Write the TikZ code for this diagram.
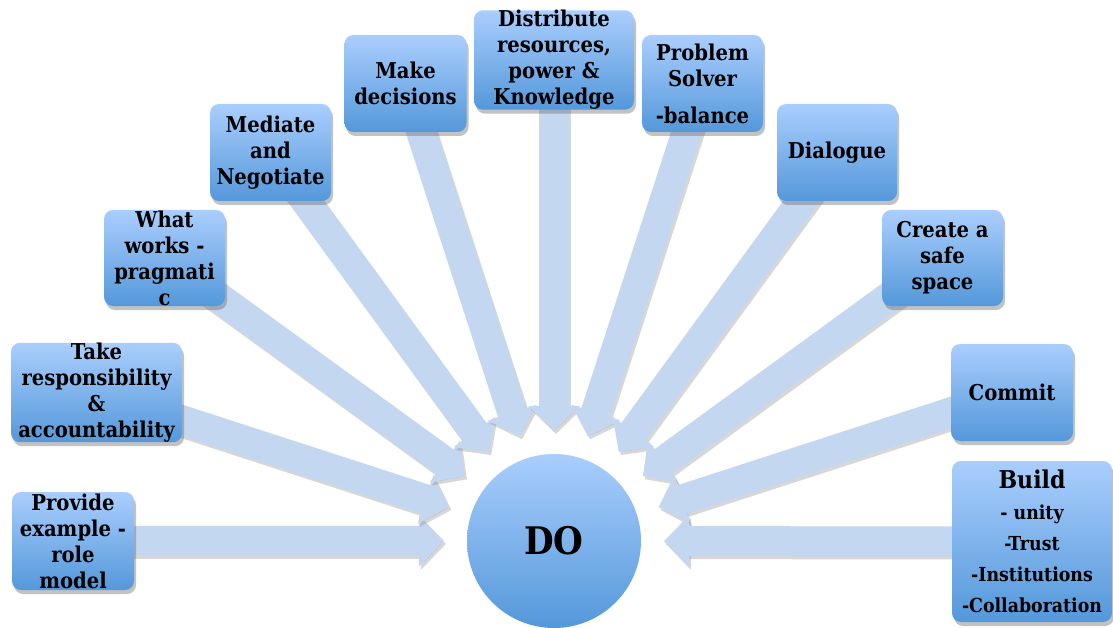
\documentclass[tikz,border=0pt]{standalone}
\usepackage{fontspec}
\setmainfont{DejaVu Serif Condensed}
\usepackage{tikz}
\usetikzlibrary{shapes,arrows.meta,calc,shadows,backgrounds}

\begin{document}
\begin{tikzpicture}[x=1pt,y=-1pt,
  box/.style={draw=none,rounded corners=9pt,top color=boxTop,bottom color=boxBot,
    drop shadow={opacity=0.4,shadow xshift=2pt,shadow yshift=-4pt,fill=black!60},
    inner sep=0pt,align=center,font=\fontsize{21.8}{26}\selectfont\bfseries},
  hub/.style={circle,draw=none,top color=boxTop,bottom color=boxBot,minimum size=174pt,
    inner sep=0pt,font=\fontsize{38}{46}\selectfont\bfseries},
  arrbody/.style={line width=30pt,draw=arrBlue,-{Triangle[width=50pt,length=25pt]}},
  arrshadow/.style={line width=30pt,draw=black!45,opacity=0.35,-{Triangle[width=50pt,length=25pt]},
    transform canvas={xshift=2pt,yshift=-3pt}}]
\definecolor{boxTop}{RGB}{170,206,253}
\definecolor{boxBot}{RGB}{84,152,218}
\definecolor{arrBlue}{RGB}{196,215,241}
\useasboundingbox (0,0) rectangle (1113,628);
\node[hub] (do) at (554,541) {DO};
\node[box,minimum width=122pt,minimum height=98pt] (prov) at (73,541) {Provide\\example -\\role\\model};
\node[box,minimum width=171pt,minimum height=97pt] (resp) at (96.5,392.5) {Take\\responsibility\\\&\\accountability};
\node[box,minimum width=121pt,minimum height=96pt] (works) at (164.5,258) {What\\works -\\pragmati\\c};
\node[box,minimum width=121pt,minimum height=97pt] (med) at (270.5,152.5) {Mediate\\and\\Negotiate};
\node[box,minimum width=122pt,minimum height=97pt] (dec) at (405.5,83.5) {Make\\decisions};
\node[box,minimum width=160pt,minimum height=96pt] (dist) at (554,60) {Distribute\\resources,\\power \&\\Knowledge};
\node[box,minimum width=121pt,minimum height=97pt] (solv) at (702.5,83.5) {Problem\\Solver\\[11pt]-balance};
\node[box,minimum width=120pt,minimum height=97pt] (dia) at (837,152.5) {Dialogue};
\node[box,minimum width=121pt,minimum height=96pt] (safe) at (942.5,258) {Create a\\safe\\space};
\node[box,minimum width=122pt,minimum height=97pt] (com) at (1012,392.5) {Commit};
\node[box,minimum width=160pt,minimum height=161pt,font=\fontsize{19.3}{31}\selectfont\bfseries] (build) at (1032,541.5)
  {{\fontsize{24.5}{30}\selectfont Build}\\- unity\\-Trust\\-Institutions\\-Collaboration};
\begin{scope}[on background layer]
\foreach \b in {prov,resp,works,med,dec,dist,solv,dia,safe,com,build} {
  \coordinate (tip-\b) at ($(do)!110pt!(\b)$);
  \draw[arrshadow] (\b.center) -- (tip-\b);
  \draw[arrbody] (\b.center) -- (tip-\b);
}
\end{scope}
\end{tikzpicture}
\end{document}
